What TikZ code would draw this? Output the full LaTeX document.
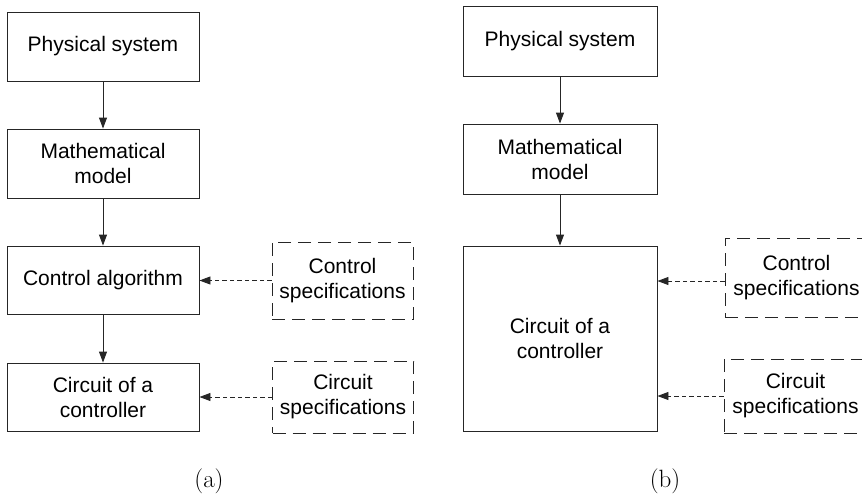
\documentclass[tikz,border=0pt]{standalone}
\usepackage{fontspec}
\setsansfont{Liberation Sans}
\usetikzlibrary{arrows.meta}
\tikzset{
  blk/.style={draw=black!85, line width=0.9pt, align=center, inner sep=0pt,
    font=\sffamily\fontsize{21}{25}\selectfont},
  spec/.style={blk, dash pattern=on 13pt off 7pt},
  arr/.style={draw=black!85, line width=0.9pt, -{Triangle[length=11pt,width=8pt]}},
  darr/.style={arr, dash pattern=on 4.5pt off 3pt},
  captxt/.style={font=\fontsize{25}{30}\selectfont}
}
\begin{document}
\begin{tikzpicture}[x=1pt,y=-1pt]
\useasboundingbox (0,0) rectangle (862,496);
% (a)
\node[blk, minimum width=192pt, minimum height=69pt] (ps1) at (103,46.5) {Physical system};
\node[blk, minimum width=192pt, minimum height=69pt] (mm1) at (103,163.5) {Mathematical\\model};
\node[blk, minimum width=192pt, minimum height=68pt] (ca1) at (103,280) {Control algorithm};
\node[blk, minimum width=192pt, minimum height=68pt] (cc1) at (103,397) {Circuit of a\\controller};
\node[spec, minimum width=141pt, minimum height=77pt] (cs1) at (342.5,280.5) {Control\\specifications};
\node[spec, minimum width=141pt, minimum height=72pt] (is1) at (343,397) {Circuit\\specifications};
\draw[arr] (ps1) -- (mm1);
\draw[arr] (mm1) -- (ca1);
\draw[arr] (ca1) -- (cc1);
\draw[darr] (cs1.west) -- (cs1.west -| ca1.east);
\draw[darr] (is1.west) -- (is1.west -| cc1.east);
\node[captxt] (la) at (209,481) {(a)};
% (b)
\node[blk, minimum width=194pt, minimum height=70pt] (ps2) at (560,41) {Physical system};
\node[blk, minimum width=194pt, minimum height=70pt] (mm2) at (560,159) {Mathematical\\model};
\node[blk, minimum width=194pt, minimum height=185pt] (cc2) at (560,338.5) {Circuit of a\\controller};
\node[spec, minimum width=143pt, minimum height=79pt] (cs2) at (796.5,277.5) {Control\\specifications};
\node[spec, minimum width=143pt, minimum height=74pt] (is2) at (795.5,396) {Circuit\\specifications};
\draw[arr] (ps2) -- (mm2);
\draw[arr] (mm2) -- (cc2);
\draw[darr] ([yshift=-3.5pt]cs2.west) -- ([yshift=-3.5pt]cs2.west -| cc2.east);
\draw[darr] (is2.west) -- (is2.west -| cc2.east);
\node[captxt] (lb) at (665,481) {(b)};
\end{tikzpicture}
\end{document}
